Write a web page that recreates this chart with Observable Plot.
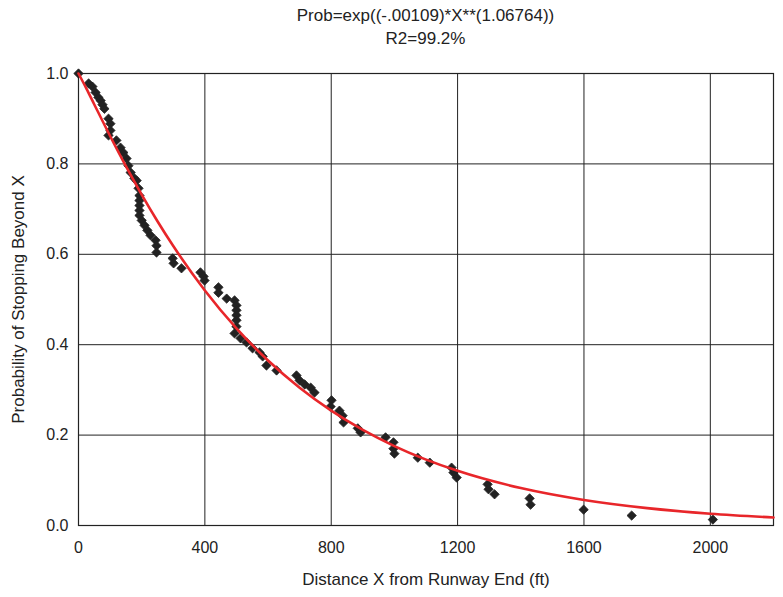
<!DOCTYPE html>
<html>
<head>
<meta charset="utf-8">
<script src="https://cdn.jsdelivr.net/npm/d3@7"></script>
<script src="https://cdn.jsdelivr.net/npm/@observablehq/plot@0.6"></script>
<style>
  body { margin: 0; background: #fff; font-family: "Liberation Sans", Arial, sans-serif; }
  #title { width: 783px; height: 62px; position: relative; color: #222; }
  #title div { position: absolute; left: 78px; width: 695px; text-align: center; font-size: 17px; }
</style>
</head>
<body>
<div id="title"><div id="t1" style="top:6px"></div><div id="t2" style="top:29px"></div></div>
<div id="chart"></div>
<script>
const titleLine1 = "Prob=exp((-.00109)*X**(1.06764))";
const titleLine2 = "R2=99.2%";
const xLabel = "Distance X from Runway End (ft)";
const yLabel = "Probability of Stopping Beyond X";
const xTicks = [0, 400, 800, 1200, 1600, 2000];
const yTicks = [0, 0.2, 0.4, 0.6, 0.8, 1.0];

// observed points (distance ft, probability)
const obsX = [0, 32, 44, 54, 63, 70, 76, 82, 95, 101, 101, 95, 120, 133, 142, 152, 158, 165, 177, 184, 190, 193, 193, 193, 193, 193, 200, 209, 218, 228, 244, 247, 247, 298, 301, 326, 386, 396, 399, 443, 443, 469, 494, 500, 500, 500, 500, 500, 494, 513, 532, 551, 573, 583, 595, 627, 690, 700, 716, 735, 747, 801, 798, 826, 836, 839, 884, 893, 972, 997, 997, 1000, 1074, 1112, 1181, 1187, 1197, 1295, 1298, 1317, 1428, 1431, 1599, 1751, 2008];
const obsY = [1.0, 0.978, 0.971, 0.958, 0.947, 0.940, 0.931, 0.922, 0.900, 0.889, 0.874, 0.863, 0.852, 0.836, 0.825, 0.812, 0.796, 0.781, 0.768, 0.763, 0.746, 0.730, 0.719, 0.708, 0.697, 0.686, 0.675, 0.664, 0.653, 0.642, 0.631, 0.619, 0.604, 0.591, 0.580, 0.569, 0.560, 0.551, 0.542, 0.527, 0.515, 0.502, 0.498, 0.487, 0.476, 0.465, 0.454, 0.440, 0.425, 0.414, 0.405, 0.392, 0.383, 0.374, 0.354, 0.343, 0.332, 0.321, 0.312, 0.305, 0.294, 0.277, 0.263, 0.254, 0.243, 0.228, 0.215, 0.206, 0.195, 0.184, 0.170, 0.159, 0.150, 0.139, 0.128, 0.117, 0.106, 0.091, 0.080, 0.069, 0.060, 0.046, 0.035, 0.022, 0.013];

// fitted curve readings
const fitX = [0, 25, 50, 100, 150, 200, 250, 300, 400, 500, 600, 700, 800, 900, 1000, 1200, 1400, 1600, 1800, 2000, 2200];
const fitY = [1.0, 0.9667, 0.9315, 0.8617, 0.7949, 0.7320, 0.6731, 0.6182, 0.5200, 0.4361, 0.3649, 0.3047, 0.2540, 0.2114, 0.1757, 0.1209, 0.0828, 0.0565, 0.0385, 0.0261, 0.0177];

document.getElementById("t1").textContent = titleLine1;
document.getElementById("t2").textContent = titleLine2;

const obs = obsX.map((x, i) => ({x, y: obsY[i]}));
const fit = fitX.map((x, i) => ({x, y: fitY[i]}));

const chart = Plot.plot({
  width: 783,
  height: 535,
  marginTop: 11,
  marginLeft: 78,
  marginRight: 10,
  marginBottom: 72,
  style: {fontFamily: "'Liberation Sans', Arial, sans-serif", fontSize: "16px", color: "#222", background: "#fff"},
  x: {domain: [0, 2200], label: null},
  y: {domain: [0, 1], label: null},
  marks: [
    Plot.gridX(xTicks, {stroke: "#222", strokeOpacity: 1, strokeWidth: 1}),
    Plot.gridY(yTicks, {stroke: "#222", strokeOpacity: 1, strokeWidth: 1}),
    Plot.frame({stroke: "#222", strokeWidth: 1.2}),
    Plot.axisX(xTicks, {tickSize: 0, tickPadding: 16, tickFormat: d3.format("d"), fontSize: 16, label: null}),
    Plot.axisY(yTicks, {tickSize: 0, tickPadding: 10, tickFormat: d3.format(".1f"), fontSize: 16, label: null}),
    Plot.dot(obs, {x: "x", y: "y", symbol: "diamond2", r: 4.2, fill: "#222", stroke: "#222", strokeWidth: 0.8}),
    Plot.line(fit, {x: "x", y: "y", stroke: "#e8262a", strokeWidth: 2.6, curve: "monotone-x"}),
    Plot.text([xLabel], {frameAnchor: "bottom", textAnchor: "middle", dy: 59, fontSize: 17, fill: "#222"}),
    Plot.text([yLabel], {frameAnchor: "left", textAnchor: "middle", dx: -60, rotate: -90, fontSize: 17, fill: "#222"})
  ]
});
document.getElementById("chart").appendChild(chart);
</script>
</body>
</html>
